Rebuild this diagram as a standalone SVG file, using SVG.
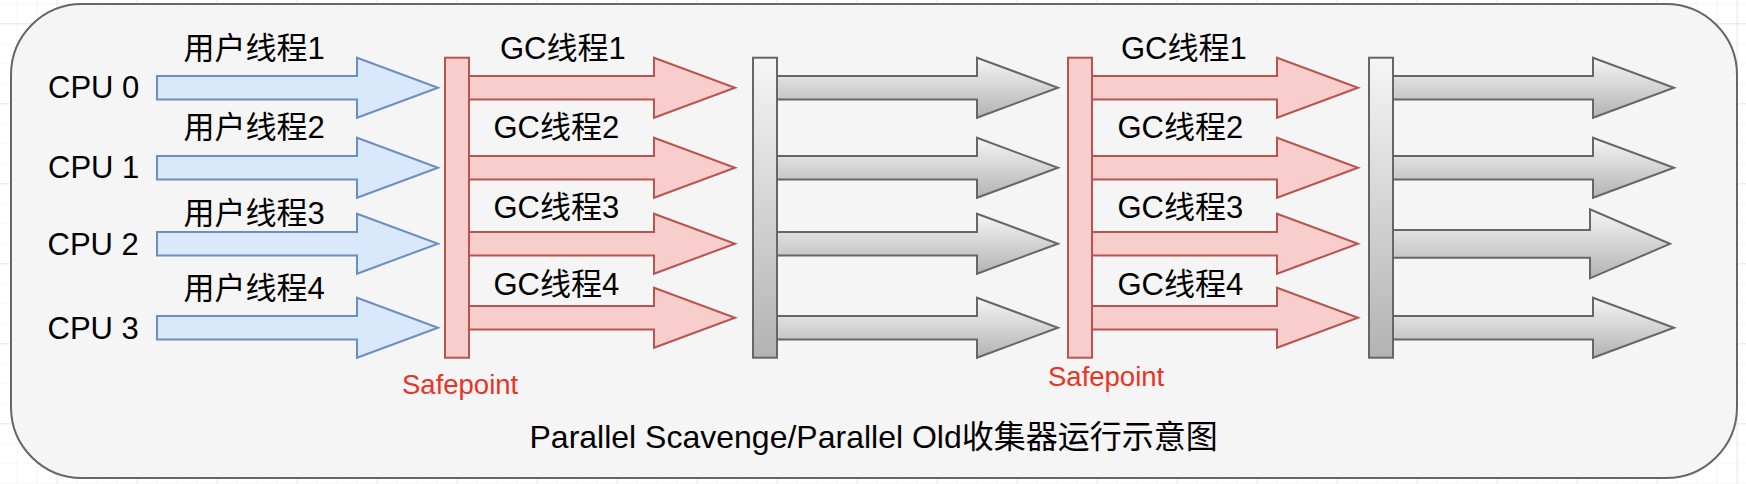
<svg xmlns="http://www.w3.org/2000/svg" width="1746" height="484" viewBox="0 0 1746 484">
<style>
  text { font-family: "Liberation Sans", "Noto Sans CJK SC", Arial, sans-serif; fill: #000000; }
  .lbl { font-size: 31px; }
  .title { font-size: 32px; }
  .sp { font-size: 27.5px; fill: #ea3323; }
  .blue { fill: #dae8fc; stroke: #6c8ebf; stroke-width: 2; }
  .red { fill: #f8cecc; stroke: #b85450; stroke-width: 2; }
  .gray { fill: url(#grad); stroke: #666666; stroke-width: 2; }
</style>
<defs>
  <linearGradient id="grad" x1="0" y1="0" x2="0" y2="1">
    <stop offset="0" stop-color="#f5f5f5"/>
    <stop offset="1" stop-color="#b3b3b3"/>
  </linearGradient>
  <pattern id="minor" patternUnits="userSpaceOnUse" x="16.7" y="3.3" width="20" height="20">
    <path d="M0 0 V20 M0 0 H20" fill="none" stroke="#eeeeee" stroke-width="1"/>
  </pattern>
  <pattern id="major" patternUnits="userSpaceOnUse" x="56.7" y="23.3" width="80" height="80">
    <path d="M0 0 V80 M0 0 H80" fill="none" stroke="#d8d8d8" stroke-width="1"/>
  </pattern>
</defs>
<rect x="0" y="0" width="1746" height="484" fill="#ffffff"/>
<rect x="0" y="0" width="1746" height="484" fill="url(#minor)"/>
<rect x="0" y="0" width="1746" height="484" fill="url(#major)"/>

<g id="container">
  <rect x="11" y="4" width="1726" height="474" rx="71" ry="71" fill="#f5f5f5" stroke="#666666" stroke-width="2"/>
</g>

<g id="connectors">
  <polygon class="blue" points="157,76 357,76 357,57.7 438,87.7 357,117.7 357,99.4 157,99.4"/>
  <polygon class="blue" points="157,156.1 357,156.1 357,137.8 438,167.8 357,197.8 357,179.5 157,179.5"/>
  <polygon class="blue" points="157,232 357,232 357,213.7 438,243.7 357,273.7 357,255.4 157,255.4"/>
  <polygon class="blue" points="157,316 357,316 357,297.7 438,327.7 357,357.7 357,339.4 157,339.4"/>

  <polygon class="red" points="469,76 654,76 654,57.7 735,87.7 654,117.7 654,99.4 469,99.4"/>
  <polygon class="red" points="469,156.1 654,156.1 654,137.8 735,167.8 654,197.8 654,179.5 469,179.5"/>
  <polygon class="red" points="469,232 654,232 654,213.7 735,243.7 654,273.7 654,255.4 469,255.4"/>
  <polygon class="red" points="469,306 654,306 654,287.7 735,317.7 654,347.7 654,329.4 469,329.4"/>

  <polygon class="gray" points="777,76 977,76 977,57.7 1058,87.7 977,117.7 977,99.4 777,99.4"/>
  <polygon class="gray" points="777,156.1 977,156.1 977,137.8 1058,167.8 977,197.8 977,179.5 777,179.5"/>
  <polygon class="gray" points="777,232 977,232 977,213.7 1058,243.7 977,273.7 977,255.4 777,255.4"/>
  <polygon class="gray" points="777,316 977,316 977,297.7 1058,327.7 977,357.7 977,339.4 777,339.4"/>

  <polygon class="red" points="1092,76 1277,76 1277,57.7 1358,87.7 1277,117.7 1277,99.4 1092,99.4"/>
  <polygon class="red" points="1092,156.1 1277,156.1 1277,137.8 1358,167.8 1277,197.8 1277,179.5 1092,179.5"/>
  <polygon class="red" points="1092,232 1277,232 1277,213.7 1358,243.7 1277,273.7 1277,255.4 1092,255.4"/>
  <polygon class="red" points="1092,306 1277,306 1277,287.7 1358,317.7 1277,347.7 1277,329.4 1092,329.4"/>

  <polygon class="gray" points="1393,76 1593,76 1593,57.7 1674,87.7 1593,117.7 1593,99.4 1393,99.4"/>
  <polygon class="gray" points="1393,156.1 1593,156.1 1593,137.8 1674,167.8 1593,197.8 1593,179.5 1393,179.5"/>
  <polygon class="gray" points="1393,230 1590,230 1590,209.3 1670,243.8 1590,278.3 1590,257.7 1393,257.7"/>
  <polygon class="gray" points="1393,316 1593,316 1593,297.7 1674,327.7 1593,357.7 1593,339.4 1393,339.4"/>
</g>

<g id="safepoint1">
  <rect class="red" x="445" y="57.7" width="24" height="300"/>
  <text class="sp" x="402" y="394">Safepoint</text>
</g>
<g id="barrier1">
  <rect class="gray" x="753" y="57.7" width="24" height="300"/>
</g>
<g id="safepoint2">
  <rect class="red" x="1068" y="57.7" width="24" height="300"/>
  <text class="sp" x="1048" y="386">Safepoint</text>
</g>
<g id="barrier2">
  <rect class="gray" x="1369" y="57.7" width="24" height="300"/>
</g>

<g id="cpu-labels">
  <text class="lbl" x="48" y="98.3">CPU 0</text>
  <text class="lbl" x="48" y="178.3">CPU 1</text>
  <text class="lbl" x="47.5" y="255">CPU 2</text>
  <text class="lbl" x="47.5" y="338.7">CPU 3</text>
</g>

<g id="user-thread-labels">
  <text class="lbl" x="183.5" y="59.3">用户线程1</text>
  <text class="lbl" x="183.5" y="138.3">用户线程2</text>
  <text class="lbl" x="183.5" y="224.3">用户线程3</text>
  <text class="lbl" x="183.5" y="299.3">用户线程4</text>
</g>

<g id="gc-labels-1">
  <text class="lbl" x="500" y="59.3">GC线程1</text>
  <text class="lbl" x="493.5" y="138.3">GC线程2</text>
  <text class="lbl" x="493.5" y="218.3">GC线程3</text>
  <text class="lbl" x="493.5" y="295">GC线程4</text>
</g>

<g id="gc-labels-2">
  <text class="lbl" x="1121" y="59.3">GC线程1</text>
  <text class="lbl" x="1117.5" y="138.3">GC线程2</text>
  <text class="lbl" x="1117.5" y="218.3">GC线程3</text>
  <text class="lbl" x="1117.5" y="295">GC线程4</text>
</g>

<g id="title">
  <text class="title" x="529.5" y="448.3">Parallel Scavenge/Parallel Old收集器运行示意图</text>
</g>
</svg>
